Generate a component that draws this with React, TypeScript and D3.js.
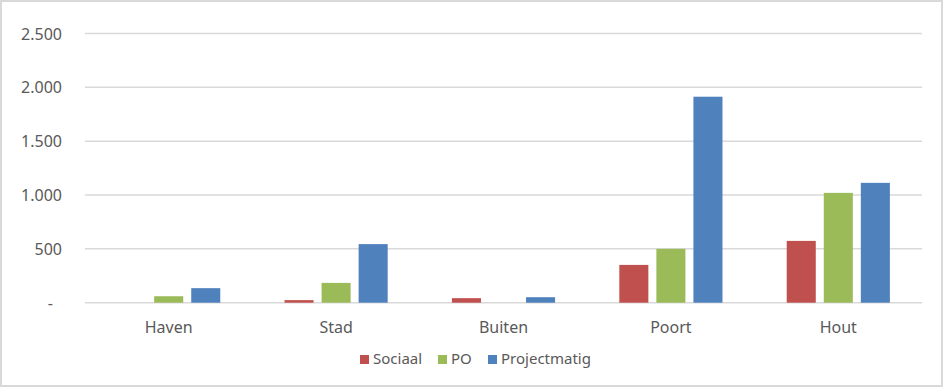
import React from 'react';
import { scaleBand, scaleLinear } from 'd3';

// data
const categories = ['Haven', 'Stad', 'Buiten', 'Poort', 'Hout'];
const seriesNames = ['Sociaal', 'PO', 'Projectmatig'];
const sociaal = [0, 24, 42, 351, 574];
const po = [60, 184, 0, 500, 1020];
const projectmatig = [135, 544, 51, 1913, 1113];
const yTicks = [0, 500, 1000, 1500, 2000, 2500];
const yTickLabels = ['-', '500', '1.000', '1.500', '2.000', '2.500'];

const colors = ['#C0504D', '#9BBB59', '#4F81BD'];
const W = 944;
const H = 389;
const margin = { top: 33.5, right: 22, bottom: 86.3, left: 85 };
const font = '"Noto Sans", "Open Sans", sans-serif';
const textColor = '#595959';

export default function App() {
  const values = [sociaal, po, projectmatig];

  const x0 = scaleBand<string>()
    .domain(categories)
    .range([margin.left, W - margin.right])
    .padding(0);

  const x1 = scaleBand<string>()
    .domain(seriesNames)
    .range([0, x0.bandwidth()])
    .paddingInner(0.216)
    .paddingOuter(0.867);

  const y = scaleLinear()
    .domain([0, 2500])
    .range([H - margin.bottom, margin.top]);

  // legend layout (square + label)
  const legendX = [360, 438, 488];
  const legendY = 355;

  return (
    <svg
      width={W}
      height={H}
      viewBox={`0 0 ${W} ${H}`}
      style={{ position: 'absolute', left: 0, top: 0, display: 'block', background: '#fff' }}
    >
      <rect x={1} y={1} width={W - 3} height={H - 4} fill="#fff" stroke="#D9D9D9" strokeWidth={2} />

      {/* gridlines + y labels */}
      {yTicks.map((t, i) => (
        <g key={t}>
          <line
            x1={margin.left}
            x2={W - margin.right}
            y1={y(t)}
            y2={y(t)}
            stroke="#D9D9D9"
            strokeWidth={1.5}
          />
          <text
            x={t === 0 ? 53 : 62}
            y={y(t) + 6}
            textAnchor="end"
            fontFamily={font}
            fontSize={16}
            fill={textColor}
          >
            {yTickLabels[i]}
          </text>
        </g>
      ))}

      {/* bars */}
      {categories.map((c, ci) => (
        <g key={c} transform={`translate(${x0(c)},0)`}>
          {seriesNames.map((s, si) => {
            const v = values[si][ci];
            if (!v) return null;
            return (
              <rect
                key={s}
                x={x1(s)}
                y={y(v)}
                width={x1.bandwidth()}
                height={y(0) - y(v)}
                fill={colors[si]}
              />
            );
          })}
        </g>
      ))}

      {/* category labels */}
      {categories.map(c => (
        <text
          key={c}
          x={(x0(c) ?? 0) + x0.bandwidth() / 2}
          y={333}
          textAnchor="middle"
          fontFamily={font}
          fontSize={16}
          fill={textColor}
        >
          {c}
        </text>
      ))}

      {/* legend */}
      {seriesNames.map((s, i) => (
        <g key={s}>
          <rect x={legendX[i]} y={legendY} width={9} height={9} fill={colors[i]} />
          <text
            x={legendX[i] + 13}
            y={legendY + 9}
            fontFamily={font}
            fontSize={15}
            fill={textColor}
          >
            {s}
          </text>
        </g>
      ))}
    </svg>
  );
}
